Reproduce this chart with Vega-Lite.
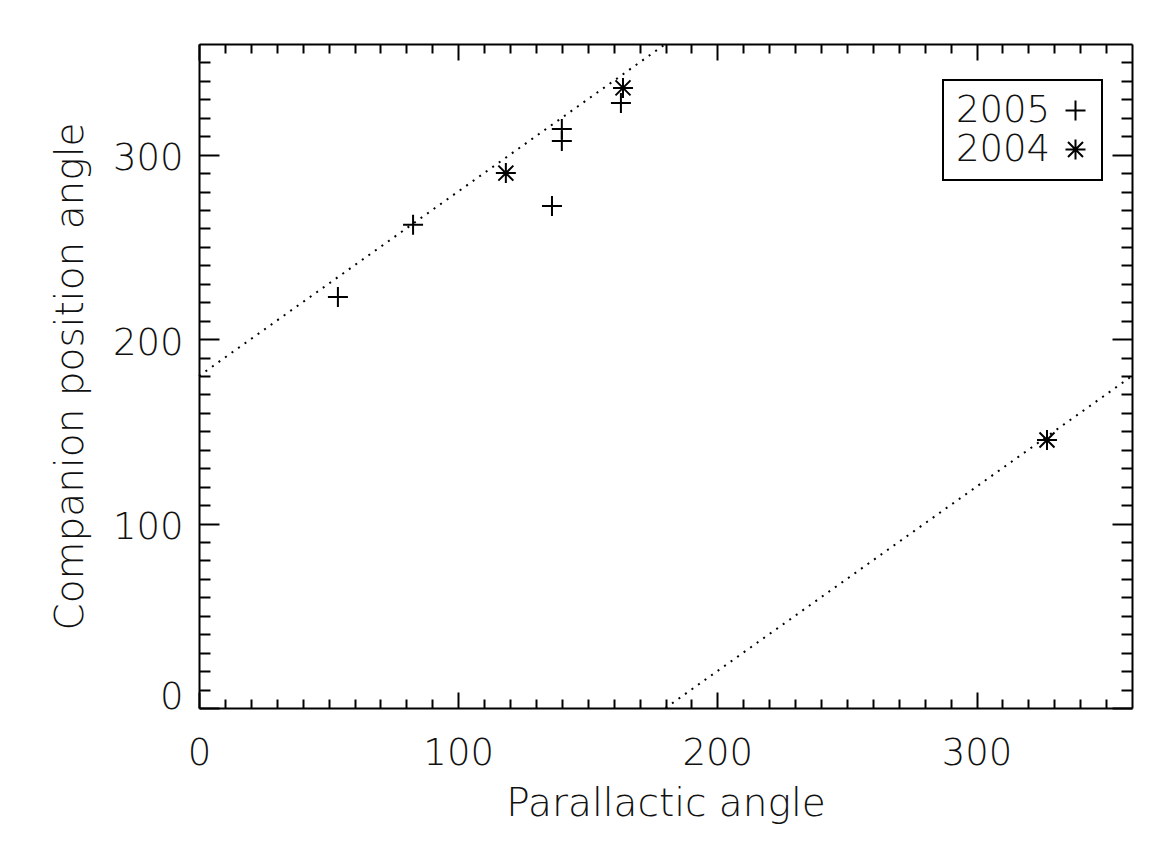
{
  "$schema": "https://vega.github.io/schema/vega-lite/v6.json",
  "width": 933,
  "height": 664,
  "autosize": {"type": "none"},
  "padding": {"left": 199, "top": 44, "right": 17, "bottom": 148},
  "background": "white",
  "config": {
    "view": {"stroke": null},
    "font": "DejaVu Sans",
    "legend": {"strokeWidth": 2},
    "axis": {
      "grid": false,
      "domainColor": "black",
      "domainWidth": 2,
      "tickColor": "black",
      "tickWidth": 2,
      "labelFont": "DejaVu Sans",
      "labelFontWeight": 300,
      "labelFontSize": 37,
      "labelColor": "#111111",
      "titleFont": "DejaVu Sans",
      "titleFontWeight": 300,
      "titleFontSize": 39,
      "titleColor": "#111111"
    }
  },
  "layer": [
    {
      "data": {
        "values": [
          {"year": "2005", "parallactic": 53.6, "position": 222.8},
          {"year": "2005", "parallactic": 82.6, "position": 262.0},
          {"year": "2005", "parallactic": 136.2, "position": 272.2},
          {"year": "2005", "parallactic": 140.0, "position": 313.9},
          {"year": "2005", "parallactic": 140.0, "position": 307.4},
          {"year": "2005", "parallactic": 162.8, "position": 328.0},
          {"year": "2004", "parallactic": 118.4, "position": 290.0},
          {"year": "2004", "parallactic": 163.6, "position": 336.2},
          {"year": "2004", "parallactic": 327.2, "position": 145.3}
        ]
      },
      "mark": {"type": "point", "filled": false, "strokeWidth": 2, "size": 400, "opacity": 1},
      "encoding": {
        "x": {
          "field": "parallactic",
          "type": "quantitative",
          "scale": {"domain": [0, 360], "nice": false, "zero": false},
          "axis": {
            "orient": "bottom",
            "title": "Parallactic angle",
            "titlePadding": 6,
            "values": [0, 10, 20, 30, 40, 50, 60, 70, 80, 90, 100, 110, 120, 130, 140, 150, 160, 170, 180, 190, 200, 210, 220, 230, 240, 250, 260, 270, 280, 290, 300, 310, 320, 330, 340, 350],
            "labelExpr": "datum.value % 100 === 0 ? datum.label : ''",
            "labelFlush": false,
            "labelOverlap": false,
            "labelPadding": 43,
            "tickSize": {"condition": {"test": "datum.value % 100 === 0", "value": -16}, "value": -9}
          }
        },
        "y": {
          "field": "position",
          "type": "quantitative",
          "scale": {"domain": [0, 360], "nice": false, "zero": false},
          "axis": {
            "orient": "left",
            "title": "Companion position angle",
            "titlePadding": 22,
            "values": [0, 10, 20, 30, 40, 50, 60, 70, 80, 90, 100, 110, 120, 130, 140, 150, 160, 170, 180, 190, 200, 210, 220, 230, 240, 250, 260, 270, 280, 290, 300, 310, 320, 330, 340, 350],
            "labelExpr": "datum.value % 100 === 0 ? datum.label : ''",
            "labelFlush": false,
            "labelOverlap": false,
            "labelPadding": 36,
            "labelBaseline": {"condition": {"test": "datum.value === 0", "value": "alphabetic"}, "value": "middle"},
            "labelOffset": {"condition": {"test": "datum.value === 0", "value": 0}, "value": 4},
            "tickSize": {"condition": {"test": "datum.value % 100 === 0", "value": -20}, "value": -11}
          }
        },
        "shape": {
          "field": "year",
          "type": "nominal",
          "scale": {
            "domain": ["2005", "2004"],
            "range": [
              "M-1,0L1,0M0,-1L0,1",
              "M-1,0L1,0M0,-1L0,1M-0.75,-0.75L0.75,0.75M-0.75,0.75L0.75,-0.75"
            ]
          },
          "legend": {
            "orient": "none",
            "legendX": 744,
            "legendY": 36,
            "title": null,
            "strokeColor": "black",
            "fillColor": "white",
            "padding": 12,
            "labelFont": "DejaVu Sans",
            "labelFontWeight": 300,
            "labelFontSize": 37,
            "labelColor": "#111111",
            "labelAlign": "left",
            "labelExpr": "datum.label + '     '",
            "labelOffset": -138,
            "symbolOffset": 102,
            "symbolSize": 400,
            "symbolStrokeWidth": 2,
            "symbolStrokeColor": "black",
            "rowPadding": 1
          }
        },
        "color": {"value": "black"}
      }
    },
    {
      "data": {
        "values": [
          {"seg": "a", "parallactic": 0, "position": 180},
          {"seg": "a", "parallactic": 180, "position": 360},
          {"seg": "b", "parallactic": 180, "position": 0},
          {"seg": "b", "parallactic": 360, "position": 180}
        ]
      },
      "mark": {"type": "line", "strokeDash": [2, 6], "strokeWidth": 2, "color": "black"},
      "encoding": {
        "x": {
          "field": "parallactic",
          "type": "quantitative",
          "scale": {"domain": [0, 360], "nice": false, "zero": false},
          "axis": {
            "orient": "top",
            "title": null,
            "labels": false,
            "values": [0, 10, 20, 30, 40, 50, 60, 70, 80, 90, 100, 110, 120, 130, 140, 150, 160, 170, 180, 190, 200, 210, 220, 230, 240, 250, 260, 270, 280, 290, 300, 310, 320, 330, 340, 350],
            "tickSize": {"condition": {"test": "datum.value % 100 === 0", "value": -16}, "value": -9}
          }
        },
        "y": {
          "field": "position",
          "type": "quantitative",
          "scale": {"domain": [0, 360], "nice": false, "zero": false},
          "axis": {
            "orient": "right",
            "title": null,
            "labels": false,
            "values": [0, 10, 20, 30, 40, 50, 60, 70, 80, 90, 100, 110, 120, 130, 140, 150, 160, 170, 180, 190, 200, 210, 220, 230, 240, 250, 260, 270, 280, 290, 300, 310, 320, 330, 340, 350],
            "tickSize": {"condition": {"test": "datum.value % 100 === 0", "value": -20}, "value": -11}
          }
        },
        "detail": {"field": "seg", "type": "nominal"}
      }
    }
  ],
  "resolve": {"axis": {"x": "independent", "y": "independent"}}
}
